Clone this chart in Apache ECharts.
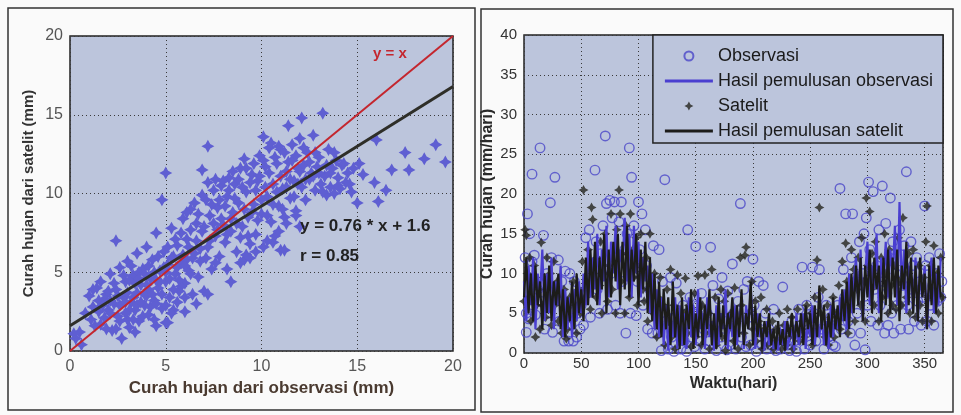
<!DOCTYPE html>
<html>
<head>
<meta charset="utf-8">
<script src="https://cdn.jsdelivr.net/npm/echarts@6/dist/echarts.min.js"></script>
<style>
  html, body { margin: 0; padding: 0; background: #fafafa; }
  #chart { width: 961px; height: 415px; }
</style>
</head>
<body>
<div id="chart"></div>
<script>
// left panel: satellite vs observation (mm)
var scatterPts = [
  [0.3,0.8],[0.5,1.2],[0.8,2.4],[1.0,3.5],[1.2,2.8],[1.3,1.6],[1.5,3.2],[1.6,4.4],[1.8,2.1],[1.9,3.6],
  [2.0,2.6],[2.1,4.9],[2.2,1.3],[2.3,3.0],[2.4,7.0],[2.4,3.9],[2.5,2.2],[2.6,5.3],[2.7,0.8],[2.8,3.4],
  [2.9,4.4],[3.0,2.0],[3.0,5.7],[3.1,1.5],[3.2,3.1],[3.3,4.8],[3.4,2.6],[3.5,6.2],[3.5,3.7],[3.6,1.9],
  [3.7,4.2],[3.8,5.2],[3.9,2.9],[4.0,3.5],[4.0,6.6],[4.1,2.3],[4.2,4.6],[4.3,5.8],[4.4,3.2],[4.5,7.5],
  [4.5,1.6],[4.6,4.0],[4.7,5.1],[4.8,2.7],[4.9,6.3],[5.0,1.8],[5.0,4.4],[5.1,5.5],[5.2,3.4],[5.3,7.8],
  [5.4,2.6],[5.5,4.9],[5.6,6.7],[5.7,3.8],[5.8,5.6],[5.9,8.4],[6.0,4.3],[6.0,2.5],[6.1,7.1],[6.2,5.1],
  [6.3,9.0],[6.4,3.6],[6.5,6.2],[6.6,8.1],[6.7,4.7],[6.8,5.7],[6.9,11.5],[6.9,7.6],[7.0,3.8],[7.1,9.6],
  [7.2,13.0],[7.2,6.6],[7.3,8.6],[7.4,5.2],[7.5,10.2],[7.6,7.3],[7.7,9.1],[7.8,6.0],[7.9,10.5],[8.0,8.0],
  [8.1,6.9],[8.2,9.8],[8.3,11.0],[8.4,4.4],[8.4,7.6],[8.5,8.8],[8.6,10.6],[8.7,6.3],[8.8,9.4],[8.9,11.6],
  [9.0,7.9],[9.1,12.2],[9.1,5.8],[9.2,10.1],[9.3,8.5],[9.4,6.8],[9.5,11.2],[9.6,9.3],[9.7,7.4],[9.8,10.8],
  [9.9,12.4],[10.0,8.7],[10.1,13.6],[10.1,6.6],[10.2,11.7],[10.3,9.8],[10.4,12.9],[10.5,8.2],[10.6,10.6],[10.7,7.3],
  [10.8,11.9],[10.9,9.2],[11.0,12.8],[11.0,6.4],[11.1,10.3],[11.2,8.5],[11.3,11.4],[11.4,14.3],[11.5,9.7],[11.6,12.1],
  [11.7,10.8],[11.8,8.9],[11.9,11.6],[12.0,13.5],[12.1,14.8],[12.1,10.4],[12.2,11.8],[12.3,9.6],[12.4,12.6],[12.5,10.9],
  [12.6,11.3],[12.7,13.7],[12.8,10.2],[12.9,11.7],[13.0,12.3],[13.1,10.6],[13.2,15.1],[13.3,11.1],[13.4,9.9],[13.5,12.8],
  [13.6,10.4],[13.7,11.6],[13.8,10.0],[13.9,12.1],[14.0,11.0],[14.1,10.3],[14.2,11.8],[14.4,10.7],[14.5,11.3],[14.7,10.1],
  [15.0,9.4],[15.1,11.9],[15.3,11.2],[15.9,10.7],[16.0,13.4],[16.1,9.5],[16.5,10.2],[16.8,11.5],[17.5,12.6],[17.7,11.5],
  [18.5,12.2],[19.1,13.1],[19.6,12.0],[4.8,9.6],[5.0,11.3],
  [0.2,1.1],[0.6,0.4],[1.1,2.0],[1.4,4.0],[1.7,2.9],[2.0,3.8],[2.6,2.9],[2.9,3.1],[3.3,2.0],[3.4,4.3],
  [3.6,5.0],[4.1,3.9],[4.4,2.0],[5.1,1.8],[5.6,3.1],[5.8,4.1],[6.3,4.9],[6.6,3.0],[7.2,3.6],[6.1,5.8],
  [5.4,6.0],[5.0,5.0],[4.5,4.5],[3.9,3.6],[3.1,2.6],[2.4,1.4],[2.1,2.4],[1.6,1.7],[8.9,5.6],[9.2,6.1],
  [10.6,6.9],[11.2,6.4],[10.9,7.6],[11.3,8.1],[12.0,7.9],[11.8,8.6],[9.7,6.3],[10.3,7.0],
  [1.2,3.9],[1.5,2.5],[1.8,3.3],[1.9,1.4],[2.1,3.2],[2.3,4.3],[2.5,3.5],[2.6,1.9],[2.8,4.8],[2.9,2.4],
  [3.0,3.7],[3.1,4.5],[3.2,5.4],[3.3,3.4],[3.4,1.2],[3.5,2.9],[3.6,4.6],[3.7,3.1],[3.8,2.2],[3.9,4.9],
  [4.0,4.2],[4.1,5.4],[4.2,2.8],[4.3,3.6],[4.4,5.0],[4.5,3.0],[4.6,6.0],[4.7,4.4],[4.8,3.6],[4.9,5.3],
  [5.0,2.9],[5.1,6.6],[5.2,4.6],[5.3,5.9],[5.4,3.9],[5.5,7.1],[5.6,5.3],[5.7,4.5],[5.8,7.5],[5.9,6.1],
  [6.0,5.4],[6.1,8.8],[6.2,6.6],[6.3,7.7],[6.4,5.9],[6.5,9.4],[6.6,7.0],[6.7,8.7],[6.8,6.5],[6.9,9.9],
  [7.0,7.9],[7.1,5.9],[7.2,10.7],[7.3,7.0],[7.4,9.3],[7.5,8.1],[7.6,10.9],[7.7,7.7],[7.8,9.6],[7.9,8.4],
  [8.0,10.8],[8.1,9.2],[8.2,7.4],[8.3,10.2],[8.4,8.4],[8.5,11.4],[8.6,9.7],[8.7,8.1],[8.8,10.9],[8.9,7.2],
  [9.0,10.4],[9.1,9.0],[9.2,11.6],[9.3,7.3],[9.4,10.7],[9.5,8.8],[9.6,11.9],[9.7,10.2],[9.8,8.3],[9.9,11.1],
  [10.0,9.6],[10.1,12.1],[10.2,10.4],[10.3,8.6],[10.4,11.3],[10.5,13.2],[10.6,9.3],[10.7,12.3],[10.8,10.1],[10.9,13.0],
  [11.0,11.1],[11.1,9.0],[11.2,12.6],[11.3,10.4],[11.4,12.0],[11.5,10.9],[11.6,13.1],[11.7,9.8],[11.8,12.4],[11.9,10.6],
  [12.0,11.4],[12.2,12.9],[12.3,10.9],[12.5,12.0],[12.7,11.1],[12.8,12.6],[13.0,11.3],[13.2,10.1],[13.4,11.8],[13.6,11.3],
  [13.8,12.6],[14.0,10.5],[14.3,11.9],[14.6,10.6],[14.8,11.6],[9.4,5.9],[8.2,5.2],[7.6,5.6],[6.0,3.4],[5.3,2.4]
];
var diagLine = [[0, 0], [20, 20]];
var fitLine = [[0, 1.6], [20, 16.8]];

// right panel: daily rainfall (mm/hari)
var observasi = [
  [1,12],[2,2.6],[2,5],[3,17.5],[4,4.3],[5,15],[7,22.5],[7,11.5],[8,6],[9,12.3],[10,4.8],[12,8],[14,25.8],[15,6.5],
  [17,14.8],[18,3],[20,10],[21,5],[23,18.9],[24,12],[25,2.6],[27,22.1],[28,7],[30,11.7],[31,4],[33,9],[35,1.5],
  [36,10.3],[38,6],[39,1.5],[40,10],[41,3.5],[43,1.5],[44,9],[46,2],[47,5],[49,3],[50,6],
  [52,3.5],[54,14.5],[55,7.5],[57,15.5],[58,4.5],[60,11],[62,23],[63,14],[64,8],[66,5],[67,12.5],[69,16],
  [71,27.3],[72,18.8],[73,5.5],[75,19.2],[76,10],[77,17],[79,19],[80,6],[81,12],[83,16.5],[84,5],[85,19],
  [86,9],[88,13],[89,2.5],[90,15],[92,25.8],[93,5],[94,22.1],[95,10],[96,16],[98,4.7],[99,9],[100,19],[101,13],
  [103,17.5],[104,6],[106,15.5],[107,11],[108,3],[110,8],[112,2.5],[113,13.5],[115,5],[117,2.5],[118,13],
  [120,0.3],[121,9],[123,21.8],[124,4],[126,0.5],[128,9.5],[129,2],[131,0.2],[133,8.8],[134,5],[136,3.5],
  [137,0.5],[139,6],[140,1.5],[142,0.2],[143,15.5],[145,7],[146,2],[148,4],[149,0.8],[150,13.4],
  [152,6],[153,1.5],[155,7.5],[157,3],[158,0.5],[160,5],[162,1.5],[163,13.3],[165,8.5],[166,3],[168,0.3],
  [170,6.8],[172,2],[173,9.5],[175,4],[177,0.4],[178,7.8],[180,1],[182,11.2],[183,5],[185,0.5],[187,6.5],
  [189,18.8],[190,2],[192,8],[194,0.8],[195,9],[197,4.5],[198,1],[200,11.8],
  [201,6],[203,0.2],[205,9],[206,3],[208,1],[209,8.5],[211,5],[212,0.5],[214,3],[216,1],[218,5.5],[220,0.3],
  [222,2.5],[224,0.5],[226,8.3],[228,3],[230,1],[232,0.3],[234,4],[236,1.5],[238,0.2],[240,5.5],[242,2],
  [243,10.8],[245,0.5],[247,6],[249,3],[250,1],
  [252,10.8],[253,5],[255,1.5],[257,7],[258,10.5],[260,3],[262,0.5],[264,6],[266,2],[268,4.5],[270,1],
  [272,0.8],[274,6],[276,20.7],[277,3],[279,10.5],[280,7],[281,17.5],[283,4],[285,2.5],[286,12],[287,17.5],
  [289,1],[290,9],[291,5],[293,14],[294,2.5],[296,10],[297,15],[298,0.4],[299,17],[300,6],
  [301,21.5],[302,13],[303,4],[305,20.3],[306,8],[308,11],[309,3.5],[310,15.5],[311,6],[313,21],[314,9],
  [315,2.5],[316,16.3],[317,7.5],[318,3.5],[319,12],[320,19.5],[321,5],[322,14],[323,2.5],[325,10],[326,6],
  [328,15.5],[329,3],[331,8.5],[332,13.5],[334,22.8],[335,6],[336,3],[338,14],[339,8],[340,11],[341,4],
  [343,12],[344,6.5],[346,9],[347,3.5],[349,7],[350,18.5],[351,11],[352,4],[354,12],[355,6],[357,8.5],
  [358,3.5],[360,10],[361,6.5],[363,12.5],[364,7],[365,9]
];
var satelit = [
  [0,6.5],[1,15.5],[2,14.8],[3,10],[4,7],[5,12],[6,4],[8,9],[9,11],[10,2],[11,6],[13,8],[14,3],[15,13.9],
  [16,6],[17,9.5],[19,4.5],[20,12],[22,7],[23,10],[24,3.5],[26,11.5],[27,6],[29,9],[30,4],[32,7.5],[33,2.5],
  [35,8],[36,5],[37,1.8],[38,3],[40,7],[42,4],[43,9],[45,6],[46,2.5],[48,8],[49,5],
  [51,11.5],[52,20.5],[53,7],[55,9],[56,13],[58,5.5],[59,18.3],[60,16.8],[61,10],[63,7],[64,12],[66,8.5],
  [67,14],[68,5],[70,10],[71,15],[73,6.5],[74,11],[76,17.5],[77,8],[79,13],[80,5],[81,15.5],[83,20.5],
  [84,17.5],[85,9],[86,12.5],[88,5],[89,16],[91,10],[92,7],[93,17.5],[95,13],[96,9.5],[98,14.5],[99,6],
  [101,11],[102,15],[104,8],[105,6.5],[107,12],[108,4],[110,15],[111,9],[113,5],[114,10],[116,2],[117,7],
  [119,9.5],[120,3],[122,6],[123,1],[125,8],[126,4],[128,10.5],[129,2],[131,6],[132,0.5],[134,9.8],[135,4],
  [137,7.5],[138,1.5],[140,5],[141,9.4],[143,2.5],[144,6],[146,0.8],[147,4],[149,7.5],[150,2],
  [152,9.7],[153,4],[155,1],[156,6],[158,9.8],[159,2.5],[161,5],[162,0.5],[164,10.5],[165,3.5],[167,7],
  [168,1],[170,4.5],[172,8],[173,2],[175,6.5],[176,0.3],[178,7.5],[179,3],[181,5],[183,1.5],[184,8.2],
  [186,4],[187,0.5],[189,12],[190,6],[192,2.5],[193,12.3],[194,13.3],[196,5],[197,1],[199,9],[200,3],
  [202,6.5],[203,1.5],[205,4],[207,7],[208,0.5],[210,3],[212,5.5],[213,1],[215,2.5],[217,4],[218,0.5],
  [220,3],[221,1.5],[223,5],[225,0.5],[227,3.5],[229,1],[230,5.5],[232,2],[234,4.5],[235,0.5],[237,3],
  [239,5.5],[241,1.5],[243,4],[245,2],[247,6],[249,3],
  [251,5],[252,1],[254,7],[256,11.7],[257,3],[258,18.3],[259,5],[261,8],[263,2],[265,6],[266,1],[268,4.5],
  [270,7],[271,2],[273,5],[275,8.5],[276,3],[278,11.5],[279,6],[281,13.8],[282,9],[283,2.5],[285,7],
  [286,13],[288,10.5],[289,4],[291,8],[292,12],[294,6],[295,14.5],[297,9],[298,4],[299,19.5],
  [300,11],[302,17.8],[303,8],[304,12.5],[306,6],[307,14],[309,9],[310,4],[312,12],[313,7],[315,15],
  [316,10],[318,5],[319,13],[321,8.5],[322,6],[324,11],[325,5.5],[327,14.5],[328,9],[330,6],[331,17],
  [333,10],[334,7],[336,12.5],[337,5],[339,9],[340,13],[342,4.5],[343,8],[345,11],[346,6],[348,4],
  [349,9.5],[351,14],[352,18.5],[353,7],[355,11],[356,4],[358,13.5],[359,8],[361,10],[362,5],[364,12],[365,7]
];
// smoothed series, one value every 2 days (day 0..364)
var smoothStep = 2;
var smoothObs = [
  9,4,11,6,12,3,10,7,13,4, 10,5,12,3,9,6,11,2,8,3, 7,2,8,4,9,5,10,6,14,7,
  12,8,15,6,13,9,16,7,14,10, 16,8,13,11,17,9,15,7,16,10, 14,7,12,9,11,5,10,3,8,2,
  7,1,6,0.3,5,2,7,0.5,6,1, 5,0.5,7,2,6,1,8,3,5,0.5, 7,2,4,0.3,6,1,5,3,8,0.5,
  5,2,6,1,4,7,0.5,6,3,8, 4,0.5,5,2,3,0.3,4,1,3,0.5, 2,0.3,3,1,4,0.5,2,3,0.3,5,
  1,3,5,0.5,4,2,6,1,4,2, 5,1,4,0.5,6,2,5,3,7,4, 8,3,10,5,9,12,6,13,4,10,
  14,6,11,8,15,5,12,9,14,7, 13,10,16,6,19,8,13,5,11,9, 6,12,4,10,7,11,3,9,12,5,
  10,6,12
];
var smoothSat = [
  7,12,5,10,4,11,6,9,3,10, 5,11,4,9,6,10,3,8,2,7, 4,9,3,10,5,8,4,12,6,13,
  7,14,6,12,8,15,5,13,7,14, 9,15,6,14,8,16,7,13,9,15, 6,13,8,14,5,12,4,10,3,9,
  2,8,3,7,1,9,2,6,0.5,7, 1,6,3,8,0.5,5,2,7,1,6, 3,8,1,5,0.5,7,2,6,1,5,
  3,7,0.5,6,2,8,1,5,3,9, 1,6,2,5,0.5,4,2,5,1,3, 0.5,4,1,3,0.3,4,2,5,1,4,
  2,5,1,6,3,5,1,6,2,8.5, 3,6,1,5,2,7,3,6,2,8, 4,9,3,10,5,11,6,12,4,11,
  7,13,5,12,8,11,4,12,6,13, 5,12,7,13,4,11,8,14,6,12, 5,11,4,12,7,10,3,11,6,12,
  5,11,7
];

var FONT = '"Liberation Sans", Arial, sans-serif';
var PLOT_BG = '#bcc5dc';
var STAR = 'path://M0,-10 L3.6,-3.6 L10,0 L3.6,3.6 L0,10 L-3.6,3.6 L-10,0 L-3.6,-3.6 Z';
var BAR = 'path://M0,0 L48,0 L48,3 L0,3 Z';
var BLUE_LINE = '#4a3fd0', BLACK_LINE = '#1c1c1a';

function toPairs(vals) {
  return vals.map(function (v, i) { return [i * smoothStep, v]; });
}

var dotted = { show: true, lineStyle: { color: '#3a3a3a', type: [1, 3], width: 1 } };

var chart = echarts.init(document.getElementById('chart'));
var option = {
  animation: false,
  backgroundColor: '#fafafa',
  textStyle: { fontFamily: FONT },
  grid: [
    { left: 70, top: 36, width: 383, height: 315, show: true, backgroundColor: PLOT_BG,
      borderColor: '#222', borderWidth: 1.5 },
    { left: 524, top: 35, width: 419, height: 318, show: true, backgroundColor: PLOT_BG,
      borderColor: '#222', borderWidth: 1.5 }
  ],
  xAxis: [
    { gridIndex: 0, type: 'value', min: 0, max: 20, interval: 5,
      axisLine: { show: false }, axisTick: { show: false }, splitLine: dotted,
      axisLabel: { fontSize: 16, color: '#555', margin: 8 },
      name: 'Curah hujan dari observasi (mm)', nameLocation: 'middle', nameGap: 27,
      nameTextStyle: { fontSize: 17, fontWeight: 'bold', color: '#4a3a30' } },
    { gridIndex: 1, type: 'value', min: 0, max: 366, interval: 50,
      axisLine: { show: false }, axisTick: { show: false }, splitLine: dotted,
      axisLabel: { fontSize: 15, color: '#333', margin: 3, showMaxLabel: false },
      name: 'Waktu(hari)', nameLocation: 'middle', nameGap: 20,
      nameTextStyle: { fontSize: 16, fontWeight: 'bold', color: '#2a2a2a' } }
  ],
  yAxis: [
    { gridIndex: 0, type: 'value', min: 0, max: 20, interval: 5,
      axisLine: { show: false }, axisTick: { show: false }, splitLine: dotted,
      axisLabel: { fontSize: 16, color: '#555', margin: 7 },
      name: 'Curah hujan dari satelit (mm)', nameLocation: 'middle', nameGap: 34,
      nameTextStyle: { fontSize: 15, fontWeight: 'bold', color: '#333' } },
    { gridIndex: 1, type: 'value', min: 0, max: 40, interval: 5,
      axisLine: { show: false }, axisTick: { show: false }, splitLine: dotted,
      axisLabel: { fontSize: 15, color: '#333', margin: 7 },
      name: 'Curah hujan (mm/hari)', nameLocation: 'middle', nameGap: 28,
      nameTextStyle: { fontSize: 16, fontWeight: 'bold', color: '#2a2a2a' } }
  ],
  legend: {
    orient: 'vertical', right: 18, top: 35,
    backgroundColor: PLOT_BG, borderColor: '#222', borderWidth: 1.5,
    padding: [12, 10, 3, 12], itemGap: 7, itemWidth: 48, itemHeight: 9,
    symbolKeepAspect: true,
    textStyle: { fontSize: 18, color: '#1a1a1a', fontFamily: FONT },
    data: [
      { name: 'Observasi' },
      { name: 'Hasil pemulusan observasi', icon: BAR, itemStyle: { color: BLUE_LINE } },
      { name: 'Satelit' },
      { name: 'Hasil pemulusan satelit', icon: BAR, itemStyle: { color: BLACK_LINE } }
    ]
  },
  series: [
    { type: 'scatter', xAxisIndex: 0, yAxisIndex: 0, data: scatterPts,
      symbol: STAR, symbolSize: 13, itemStyle: { color: '#5f5fd2', opacity: 1 } },
    { type: 'line', xAxisIndex: 0, yAxisIndex: 0, data: diagLine, symbol: 'none',
      lineStyle: { color: '#c4262e', width: 2 } },
    { type: 'line', xAxisIndex: 0, yAxisIndex: 0, data: fitLine, symbol: 'none',
      lineStyle: { color: '#2e2e28', width: 3 } },

    { name: 'Observasi', type: 'scatter', xAxisIndex: 1, yAxisIndex: 1, data: observasi,
      symbol: 'circle', symbolSize: 9.5,
      itemStyle: { color: 'rgba(0,0,0,0)', borderColor: '#4a46c8', borderWidth: 1.4 } },
    { name: 'Hasil pemulusan observasi', type: 'line', xAxisIndex: 1, yAxisIndex: 1,
      data: toPairs(smoothObs), symbol: 'none',
      lineStyle: { color: BLUE_LINE, width: 2.2 }, itemStyle: { color: BLUE_LINE } },
    { name: 'Satelit', type: 'scatter', xAxisIndex: 1, yAxisIndex: 1, data: satelit,
      symbol: STAR, symbolSize: 10, symbolKeepAspect: true,
      itemStyle: { color: '#24241e' } },
    { name: 'Hasil pemulusan satelit', type: 'line', xAxisIndex: 1, yAxisIndex: 1,
      data: toPairs(smoothSat), symbol: 'none',
      lineStyle: { color: BLACK_LINE, width: 2.2 }, itemStyle: { color: BLACK_LINE } }
  ],
  graphic: [
    { type: 'rect', shape: { x: 8, y: 8, width: 467, height: 402 },
      style: { fill: 'none', stroke: '#333', lineWidth: 1.5 }, z: 100 },
    { type: 'rect', shape: { x: 481, y: 9, width: 472, height: 403 },
      style: { fill: 'none', stroke: '#333', lineWidth: 1.5 }, z: 100 },
    { type: 'text', left: 373, top: 46, z: 100,
      style: { text: 'y = x', fill: '#c4262e', fontSize: 15, fontWeight: 'bold', fontFamily: FONT } },
    { type: 'text', left: 300, top: 218, z: 100,
      style: { text: 'y = 0.76 * x + 1.6', fill: '#222', fontSize: 17, fontWeight: 'bold', fontFamily: FONT } },
    { type: 'text', left: 300, top: 248, z: 100,
      style: { text: 'r = 0.85', fill: '#222', fontSize: 17, fontWeight: 'bold', fontFamily: FONT } }
  ]
};
chart.setOption(option);
</script>
</body>
</html>
